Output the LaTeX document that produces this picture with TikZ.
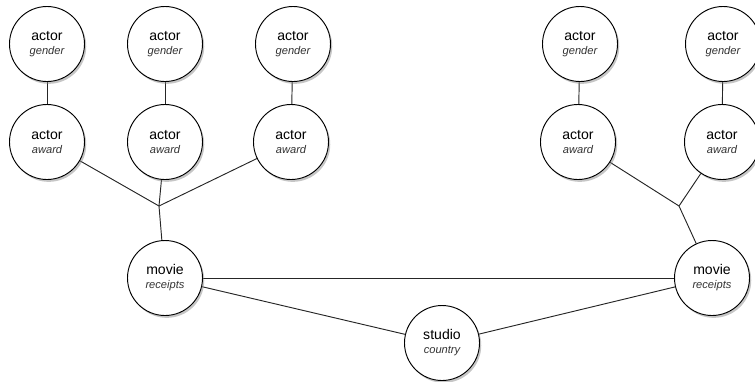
\documentclass[tikz,border=0pt]{standalone}
\usepackage{fontspec}
\setmainfont{Liberation Sans}
\usepackage{tikz}
\usetikzlibrary{shapes,shadows,backgrounds,positioning}
\tikzstyle{entity}=[circle, draw=black, thick, fill=white, minimum size=2.25cm, inner sep=0pt, align=center, font=\fontsize{12}{14}\selectfont, drop shadow={opacity=0.45, shadow xshift=1.5pt, shadow yshift=-2pt}]
\tikzstyle{link}=[draw=black!85, thick]
\newcommand{\attr}[1]{\\[-2pt]{\fontsize{9.5}{11}\selectfont\itshape\color{black!80}#1}}

\begin{document}
\begin{tikzpicture}[x=0.03cm, y=-0.03cm]
\useasboundingbox (0,0) rectangle (755,381);
%Row One
\node[entity] (g1) at (47,44){actor\attr{gender}};
\node[entity] (g2) at (165,44){actor\attr{gender}};
\node[entity] (g3) at (293,44){actor\attr{gender}};
\node[entity] (g4) at (580,44){actor\attr{gender}};
\node[entity] (g5) at (723,44){actor\attr{gender}};
%Row Two
\node[entity] (a1) at (47,142){actor\attr{award}};
\node[entity] (a2) at (165,142){actor\attr{award}};
\node[entity] (a3) at (291,142){actor\attr{award}};
\node[entity] (a4) at (578,142){actor\attr{award}};
\node[entity] (a5) at (722,142){actor\attr{award}};
%Row Three
\node[entity] (m1) at (165,278){movie\attr{receipts}};
\node[entity] (m2) at (712,278){movie\attr{receipts}};
\node[entity] (st) at (442,343){studio\attr{country}};
%junctions
\coordinate (j1) at (159,206);
\coordinate (j2) at (679,206);
%links
\begin{scope}[on background layer]
\draw[link] (g1) -- (a1);
\draw[link] (g2) -- (a2);
\draw[link] (g3) -- (a3);
\draw[link] (g4) -- (a4);
\draw[link] (g5) -- (a5);
\draw[link] (a1) -- (j1);
\draw[link] (a2) -- (j1);
\draw[link] (a3) -- (j1);
\draw[link] (j1) -- (m1);
\draw[link] (a4) -- (j2);
\draw[link] (a5) -- (j2);
\draw[link] (j2) -- (m2);
\draw[link] (m1) -- (m2);
\draw[link] (m1) -- (st);
\draw[link] (st) -- (m2);
\end{scope}
\end{tikzpicture}
\end{document}
